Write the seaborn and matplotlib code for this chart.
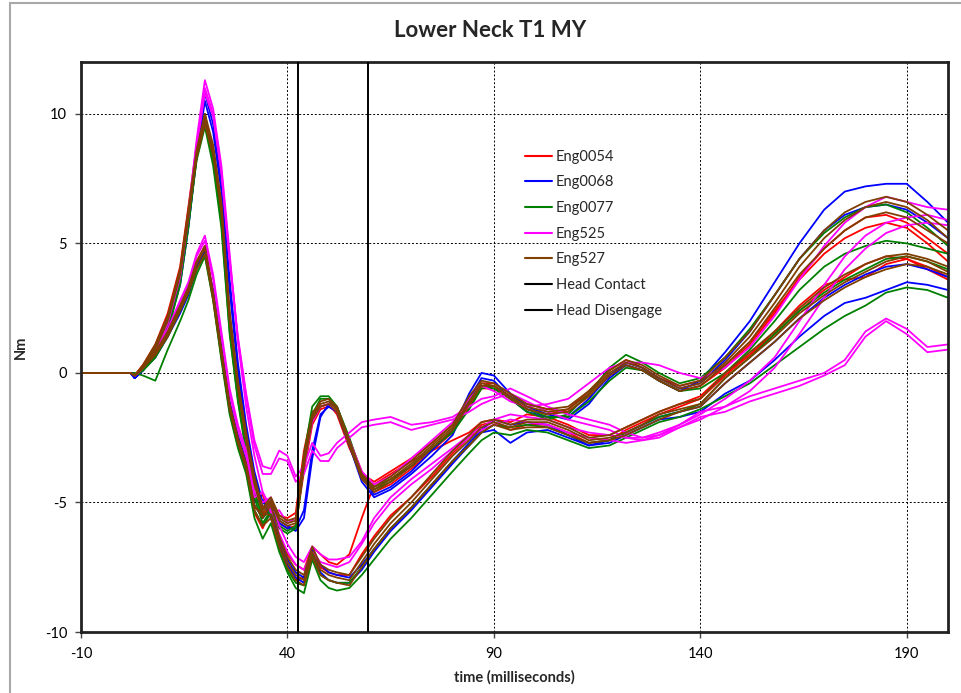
import numpy as np
import pandas as pd
import matplotlib
matplotlib.use("Agg")
import matplotlib.pyplot as plt
import seaborn as sns
from matplotlib.lines import Line2D
from matplotlib.patches import Rectangle

sns.set_theme(style="white")
plt.rcParams['font.family'] = ['Lato', 'DejaVu Sans']
plt.rcParams['axes.unicode_minus'] = False

# ---------------- data ----------------
T = [-10, 2, 3, 5, 8, 11, 14, 16, 18, 20, 22, 24, 26, 28, 30, 32, 34, 36, 38, 40,
     42, 44, 46, 48, 50, 52, 55, 58, 61, 65, 70, 75, 80, 84, 87, 90, 94, 98, 103, 108,
     113, 118, 122, 126, 130, 135, 140, 146, 152, 158, 164, 170, 175, 180, 185, 190, 195, 200]

series_names = ["Eng0054", "Eng0068", "Eng0077", "Eng525", "Eng527"]
series_colors = ["#FF0000", "#0000FF", "#008000", "#FF00FF", "#7F3F00"]
marker_names = ["Head Contact", "Head Disengage"]
marker_times = [42.5, 59.5]

red_a1 = [0, 0, -0.1, 0.3, 1.1, 2.3, 4.1, 6.4, 8.8, 10.0, 8.4, 6.0, 2.0, -0.6, -2.6, -4.3, -5.2, -5.0, -5.5, -5.6, -5.4, -3.0, -1.5, -1.3, -1.2, -1.6, -2.9, -3.9, -4.2, -3.8, -3.3, -2.7, -2.0, -1.0, -0.4, -0.4, -0.8, -1.2, -1.4, -1.5, -0.9, -0.1, 0.3, 0.1, -0.3, -0.7, -0.5, 0.2, 1.1, 2.3, 3.7, 4.8, 5.5, 6.0, 6.1, 5.8, 5.2, 4.6]
red_a2 = [0, 0, -0.1, 0.2, 1.0, 2.1, 3.9, 6.2, 8.5, 9.7, 8.3, 6.1, 2.1, -0.5, -2.5, -4.2, -5.5, -5.1, -5.8, -6.0, -5.9, -3.8, -2.0, -1.4, -1.3, -1.5, -2.6, -3.8, -4.6, -4.3, -3.7, -3.0, -2.3, -1.3, -0.6, -0.6, -1.0, -1.4, -1.6, -1.4, -0.7, 0.1, 0.5, 0.2, -0.2, -0.5, -0.3, 0.3, 1.2, 2.4, 3.6, 4.6, 5.2, 5.6, 5.8, 5.6, 5.0, 4.3]
red_b1 = [0, 0, -0.1, 0.3, 0.9, 1.7, 2.7, 3.4, 4.3, 4.9, 3.1, 0.9, -1.2, -2.5, -3.5, -5.0, -4.7, -5.6, -6.3, -7.0, -7.4, -7.6, -6.7, -7.0, -7.3, -7.4, -7.0, -5.6, -4.3, -3.9, -3.4, -3.0, -2.6, -2.3, -1.9, -1.8, -1.9, -1.6, -1.7, -2.0, -2.4, -2.4, -2.1, -1.8, -1.5, -1.2, -0.9, 0.0, 0.7, 1.5, 2.4, 3.2, 3.7, 4.2, 4.5, 4.4, 4.1, 3.7]
red_b2 = [0, 0, -0.1, 0.2, 0.8, 1.6, 2.6, 3.3, 4.2, 4.7, 2.8, 0.6, -1.5, -2.8, -3.8, -5.4, -6.0, -5.3, -6.6, -7.5, -8.0, -7.9, -6.8, -7.5, -7.7, -7.8, -7.8, -7.0, -6.3, -5.5, -4.8, -4.0, -3.1, -2.5, -2.0, -1.9, -2.2, -2.0, -2.0, -2.3, -2.7, -2.6, -2.2, -1.9, -1.6, -1.3, -1.0, -0.1, 0.7, 1.6, 2.6, 3.4, 3.6, 3.7, 4.2, 4.4, 4.0, 3.6]

blue_a1 = [0, 0, -0.2, 0.1, 0.7, 1.7, 3.4, 5.6, 8.4, 10.8, 9.6, 7.4, 3.6, 0.4, -2.0, -3.8, -5.0, -5.2, -5.7, -5.9, -6.1, -5.6, -3.3, -1.7, -1.2, -1.3, -2.6, -4.0, -4.7, -4.4, -3.8, -3.0, -2.2, -0.8, 0.0, -0.1, -0.8, -1.3, -1.6, -1.8, -1.2, -0.2, 0.3, 0.1, -0.3, -0.7, -0.3, 0.8, 2.0, 3.5, 5.0, 6.3, 7.0, 7.2, 7.3, 7.3, 6.6, 5.8]
blue_a2 = [0, 0, -0.2, 0.1, 0.8, 1.8, 3.5, 5.7, 8.3, 10.5, 9.3, 7.0, 3.2, 0.1, -2.2, -4.0, -5.2, -5.0, -5.8, -6.0, -6.0, -5.3, -3.0, -1.6, -1.3, -1.5, -2.8, -4.2, -4.8, -4.5, -3.9, -3.2, -2.4, -1.0, -0.2, -0.3, -1.0, -1.5, -1.7, -1.7, -1.0, -0.1, 0.4, 0.2, -0.2, -0.6, -0.4, 0.5, 1.6, 3.0, 4.4, 5.5, 6.1, 6.4, 6.5, 6.3, 5.8, 5.2]
blue_b1 = [0, 0, -0.2, 0.1, 0.6, 1.4, 2.3, 3.0, 4.0, 4.6, 3.2, 1.0, -1.1, -2.4, -3.4, -5.0, -4.9, -5.6, -6.6, -7.4, -7.9, -8.1, -7.0, -7.7, -8.0, -8.1, -8.1, -7.6, -6.9, -6.1, -5.3, -4.4, -3.5, -2.8, -2.3, -2.2, -2.7, -2.3, -2.2, -2.5, -2.8, -2.7, -2.4, -2.1, -1.8, -1.7, -1.5, -0.8, -0.3, 0.5, 1.4, 2.2, 2.7, 2.9, 3.2, 3.5, 3.4, 3.2]
blue_b2 = [0, 0, -0.2, 0.1, 0.7, 1.5, 2.4, 3.1, 4.1, 4.7, 3.1, 0.9, -1.2, -2.5, -3.5, -5.1, -5.6, -5.2, -6.4, -7.2, -7.7, -7.9, -6.8, -7.4, -7.7, -7.8, -7.9, -7.4, -6.8, -6.0, -5.2, -4.3, -3.4, -2.7, -2.2, -1.8, -2.0, -1.9, -2.0, -2.4, -2.8, -2.6, -2.3, -2.0, -1.7, -1.5, -1.3, -0.4, 0.4, 1.2, 2.1, 2.9, 3.4, 3.8, 4.1, 4.2, 4.0, 3.7]

green_a1 = [0, 0, -0.1, 0.1, 0.6, 1.6, 3.4, 5.6, 8.3, 10.0, 8.2, 5.8, 1.6, -1.0, -3.0, -4.6, -5.6, -5.2, -5.9, -6.1, -5.9, -3.2, -1.3, -0.9, -0.9, -1.3, -2.5, -3.9, -4.4, -4.1, -3.6, -2.9, -2.2, -1.2, -0.5, -0.6, -1.0, -1.5, -1.8, -1.6, -0.8, 0.2, 0.7, 0.4, 0.0, -0.4, -0.2, 0.6, 1.7, 3.0, 4.4, 5.4, 6.0, 6.4, 6.5, 6.2, 5.6, 4.9]
green_a2 = [0, 0, -0.1, 0.1, 0.7, 1.8, 3.6, 5.9, 8.2, 9.5, 8.0, 5.6, 1.5, -1.1, -3.1, -4.8, -5.8, -5.3, -6.0, -6.2, -6.0, -3.6, -1.6, -1.0, -1.0, -1.4, -2.6, -4.0, -4.5, -4.2, -3.6, -2.9, -2.3, -1.4, -0.6, -0.5, -0.9, -1.4, -1.7, -1.7, -1.1, -0.3, 0.2, 0.1, -0.3, -0.7, -0.6, 0.0, 0.9, 2.0, 3.2, 4.1, 4.6, 4.9, 5.1, 5.0, 4.8, 4.6]
green_b1 = [0, 0, 0.0, -0.1, -0.3, 0.9, 2.0, 2.8, 3.8, 4.5, 2.8, 0.5, -1.6, -2.9, -3.9, -5.6, -6.4, -5.8, -6.9, -7.7, -8.3, -8.5, -7.2, -8.0, -8.3, -8.4, -8.3, -7.8, -7.2, -6.4, -5.6, -4.7, -3.8, -3.1, -2.6, -2.3, -2.4, -2.2, -2.3, -2.6, -2.9, -2.8, -2.5, -2.2, -1.9, -1.7, -1.4, -0.9, -0.4, 0.3, 1.0, 1.7, 2.2, 2.6, 3.1, 3.3, 3.2, 2.9]
green_b2 = [0, 0, -0.1, 0.1, 0.6, 1.4, 2.4, 3.1, 4.0, 4.6, 2.9, 0.7, -1.4, -2.7, -3.7, -5.3, -5.9, -5.4, -6.8, -7.6, -8.1, -8.2, -7.0, -7.8, -8.0, -8.1, -8.1, -7.5, -6.8, -6.0, -5.2, -4.3, -3.4, -2.8, -2.3, -2.0, -2.1, -2.0, -2.1, -2.4, -2.7, -2.6, -2.3, -2.0, -1.7, -1.5, -1.2, -0.2, 0.6, 1.5, 2.4, 3.1, 3.6, 4.0, 4.4, 4.5, 4.3, 4.0]

mag_a1 = [0, 0, -0.1, 0.2, 0.9, 2.0, 3.8, 6.2, 9.0, 11.3, 10.2, 8.0, 4.6, 1.2, -1.3, -3.2, -4.6, -5.4, -5.3, -5.8, -5.6, -3.6, -1.9, -1.3, -1.2, -1.5, -2.6, -3.8, -4.3, -4.0, -3.3, -2.6, -1.9, -1.0, -0.5, -0.7, -1.1, -1.3, -1.2, -1.0, -0.4, 0.2, 0.4, 0.4, 0.3, 0.0, -0.2, 0.2, 1.0, 2.2, 3.6, 4.9, 5.8, 6.4, 6.8, 6.6, 6.4, 6.3]
mag_s1 = [0, 0, -0.1, 0.2, 0.9, 2.0, 3.8, 6.1, 8.8, 11.0, 10.0, 7.8, 4.4, 1.4, -0.8, -2.6, -3.6, -3.7, -3.0, -3.2, -4.0, -3.6, -2.7, -3.2, -3.1, -2.7, -2.3, -1.9, -1.8, -1.7, -2.0, -1.9, -1.7, -1.3, -1.0, -0.9, -0.6, -0.9, -1.3, -1.6, -1.8, -2.0, -2.3, -2.5, -2.4, -2.0, -1.5, -1.3, -0.9, -0.6, -0.3, 0.0, 0.5, 1.6, 2.1, 1.7, 1.0, 1.1]
mag_s2 = [0, 0, -0.1, 0.2, 0.8, 1.9, 3.7, 6.0, 8.7, 10.8, 9.9, 7.7, 4.3, 1.3, -0.9, -2.8, -3.9, -3.9, -3.3, -3.4, -4.2, -3.9, -3.0, -3.4, -3.4, -2.9, -2.5, -2.1, -2.0, -1.9, -2.2, -2.0, -1.8, -1.5, -1.2, -1.0, -0.8, -1.1, -1.5, -1.8, -2.0, -2.2, -2.5, -2.6, -2.5, -2.1, -1.7, -1.5, -1.1, -0.8, -0.5, -0.1, 0.3, 1.4, 2.0, 1.5, 0.8, 0.9]
mag_b1 = [0, 0, -0.1, 0.2, 0.8, 1.7, 2.8, 3.5, 4.6, 5.3, 3.8, 1.6, -0.6, -2.0, -3.0, -4.6, -5.0, -4.8, -5.9, -6.6, -7.1, -7.3, -6.7, -7.0, -7.2, -7.2, -7.1, -6.5, -5.6, -4.8, -4.1, -3.5, -2.9, -2.4, -2.1, -1.8, -1.6, -1.7, -1.8, -2.1, -2.3, -2.4, -2.5, -2.5, -2.3, -2.0, -1.6, -1.0, -0.3, 0.6, 2.0, 3.4, 4.5, 5.3, 5.8, 6.0, 6.1, 5.9]
mag_b2 = [0, 0, -0.1, 0.2, 0.8, 1.6, 2.7, 3.4, 4.5, 5.1, 3.6, 1.4, -0.8, -2.2, -3.2, -4.8, -4.6, -5.2, -6.2, -6.9, -7.4, -7.6, -6.9, -7.3, -7.4, -7.5, -7.3, -6.6, -5.8, -5.0, -4.3, -3.7, -3.0, -2.5, -2.2, -2.0, -1.8, -1.9, -2.0, -2.3, -2.5, -2.6, -2.7, -2.6, -2.4, -2.1, -1.8, -1.3, -0.7, 0.2, 1.5, 2.9, 4.0, 4.8, 5.4, 5.7, 5.8, 5.7]

brown_a1 = [0, 0, -0.1, 0.2, 0.9, 2.0, 3.8, 6.0, 8.4, 9.8, 8.6, 6.4, 2.2, -0.4, -2.4, -4.1, -5.3, -4.9, -5.6, -5.8, -5.7, -3.4, -1.7, -1.2, -1.1, -1.4, -2.7, -4.0, -4.5, -4.1, -3.5, -2.8, -2.1, -1.1, -0.4, -0.5, -0.9, -1.3, -1.5, -1.4, -0.8, 0.0, 0.4, 0.2, -0.2, -0.6, -0.4, 0.4, 1.4, 2.7, 4.1, 5.2, 5.9, 6.4, 6.6, 6.4, 5.9, 5.2]
brown_a2 = [0, 0, -0.1, 0.2, 1.0, 2.1, 3.9, 6.1, 8.3, 9.6, 8.4, 6.2, 2.0, -0.6, -2.6, -4.3, -5.4, -5.0, -5.7, -5.9, -5.8, -3.6, -1.8, -1.3, -1.2, -1.5, -2.8, -4.1, -4.6, -4.2, -3.6, -2.9, -2.2, -1.2, -0.5, -0.5, -1.0, -1.4, -1.6, -1.5, -0.9, -0.1, 0.3, 0.1, -0.3, -0.7, -0.5, 0.3, 1.2, 2.5, 3.8, 4.8, 5.5, 6.0, 6.2, 6.0, 5.5, 5.0]
brown_a3 = [0, 0, -0.1, 0.3, 1.1, 2.2, 4.0, 6.3, 8.6, 10.0, 8.8, 6.6, 2.4, -0.3, -2.3, -4.0, -5.2, -4.8, -5.5, -5.7, -5.6, -3.2, -1.6, -1.1, -1.0, -1.3, -2.6, -3.9, -4.4, -4.0, -3.4, -2.7, -2.0, -0.9, -0.3, -0.4, -0.8, -1.2, -1.4, -1.3, -0.7, 0.1, 0.5, 0.3, -0.1, -0.5, -0.3, 0.6, 1.6, 3.0, 4.4, 5.5, 6.2, 6.6, 6.8, 6.6, 6.1, 5.5]
brown_b1 = [0, 0, -0.1, 0.2, 0.7, 1.5, 2.5, 3.2, 4.2, 4.8, 3.0, 0.8, -1.3, -2.6, -3.6, -5.2, -5.4, -5.5, -6.5, -7.3, -7.8, -8.0, -6.9, -7.6, -7.8, -7.9, -8.0, -7.3, -6.6, -5.8, -5.0, -4.1, -3.2, -2.6, -2.1, -1.9, -2.1, -1.9, -1.9, -2.2, -2.6, -2.5, -2.3, -2.0, -1.6, -1.4, -1.2, -0.2, 0.6, 1.4, 2.3, 3.0, 3.5, 3.9, 4.3, 4.5, 4.3, 3.9]
brown_b2 = [0, 0, -0.1, 0.2, 0.8, 1.6, 2.6, 3.3, 4.3, 4.9, 3.1, 0.9, -1.2, -2.5, -3.5, -5.1, -5.6, -5.1, -6.3, -7.1, -7.6, -7.8, -6.7, -7.4, -7.6, -7.7, -7.8, -7.1, -6.4, -5.6, -4.8, -3.9, -3.0, -2.4, -1.9, -1.8, -2.0, -1.8, -1.8, -2.1, -2.5, -2.4, -2.1, -1.8, -1.5, -1.2, -1.0, 0.0, 0.8, 1.6, 2.5, 3.3, 3.8, 4.2, 4.5, 4.6, 4.4, 4.1]
brown_b3 = [0, 0, -0.1, 0.2, 0.7, 1.4, 2.4, 3.1, 4.0, 4.6, 2.9, 0.7, -1.4, -2.7, -3.7, -5.3, -5.9, -5.6, -6.7, -7.5, -8.0, -8.2, -7.1, -7.8, -8.0, -8.1, -8.2, -7.5, -6.8, -6.0, -5.2, -4.3, -3.4, -2.8, -2.3, -2.0, -2.2, -2.1, -2.1, -2.4, -2.7, -2.6, -2.4, -2.1, -1.8, -1.5, -1.3, -0.4, 0.4, 1.2, 2.1, 2.8, 3.3, 3.7, 4.0, 4.2, 4.1, 3.8]

curves = {
    "Eng0054": [red_a1, red_a2, red_b1, red_b2],
    "Eng0068": [blue_a1, blue_a2, blue_b1, blue_b2],
    "Eng0077": [green_a1, green_a2, green_b1, green_b2],
    "Eng525": [mag_a1, mag_s1, mag_s2, mag_b1, mag_b2],
    "Eng527": [brown_a1, brown_a2, brown_a3, brown_b1, brown_b2, brown_b3],
}

rows = []
for s in series_names:
    for k, yv in enumerate(curves[s]):
        for t, v in zip(T, yv):
            rows.append((s, f"{s}_{k}", t, v))
df = pd.DataFrame(rows, columns=["series", "curve", "time", "value"])

# ---------------- figure ----------------
fig = plt.figure(figsize=(9.61, 6.93), dpi=100)
ax = fig.add_axes([0.0843, 0.088, 0.9022, 0.8225])

palette = dict(zip(series_names, series_colors))
sns.lineplot(data=df, x="time", y="value", hue="series", units="curve",
             estimator=None, sort=False, palette=palette, hue_order=series_names,
             lw=1.3, legend=False, ax=ax)

for t in marker_times:
    ax.axvline(t, color="black", lw=1.4, zorder=5)

ax.set_xlim(-10, 200)
ax.set_ylim(-10, 12)
ax.set_xticks([-10, 40, 90, 140, 190])
ax.set_yticks([-10, -5, 0, 5, 10])
ax.grid(True, color="black", linestyle=(0, (2, 2)), lw=0.7)
ax.set_axisbelow(True)
for sp in ax.spines.values():
    sp.set_color("#222222")
    sp.set_linewidth(2.0)
ax.tick_params(axis="both", which="both", direction="out", length=4, width=1,
               color="#444444", labelsize=10.5, labelcolor="black", bottom=True, left=True)
ax.tick_params(axis="x", pad=7)
ax.tick_params(axis="y", pad=6)

ax.set_xlabel("time (milliseconds)", fontsize=10.5, fontweight="bold", labelpad=6)
ax.set_ylabel("Nm", fontsize=10.5, fontweight="bold", labelpad=12)
fig.text(0.51, 0.956, "Lower Neck T1 MY", ha="center", va="center",
         fontsize=16, fontweight="bold")

handles = [Line2D([0], [0], color=c, lw=1.5) for c in series_colors]
handles += [Line2D([0], [0], color="black", lw=1.5) for _ in marker_names]
leg = fig.legend(handles, series_names + marker_names, loc="upper left",
                 bbox_to_anchor=(0.546, 0.784), bbox_transform=fig.transFigure,
                 frameon=False, fontsize=10.5, handlelength=1.9, handletextpad=0.25,
                 labelspacing=0.8, borderaxespad=0, borderpad=0)

fig.patches.append(Rectangle((0.010, -0.01), 0.995, 1.005, transform=fig.transFigure,
                             fill=False, edgecolor="#a8a8a8", lw=1.5))

fig.savefig("out.png", dpi=100, facecolor="white")
